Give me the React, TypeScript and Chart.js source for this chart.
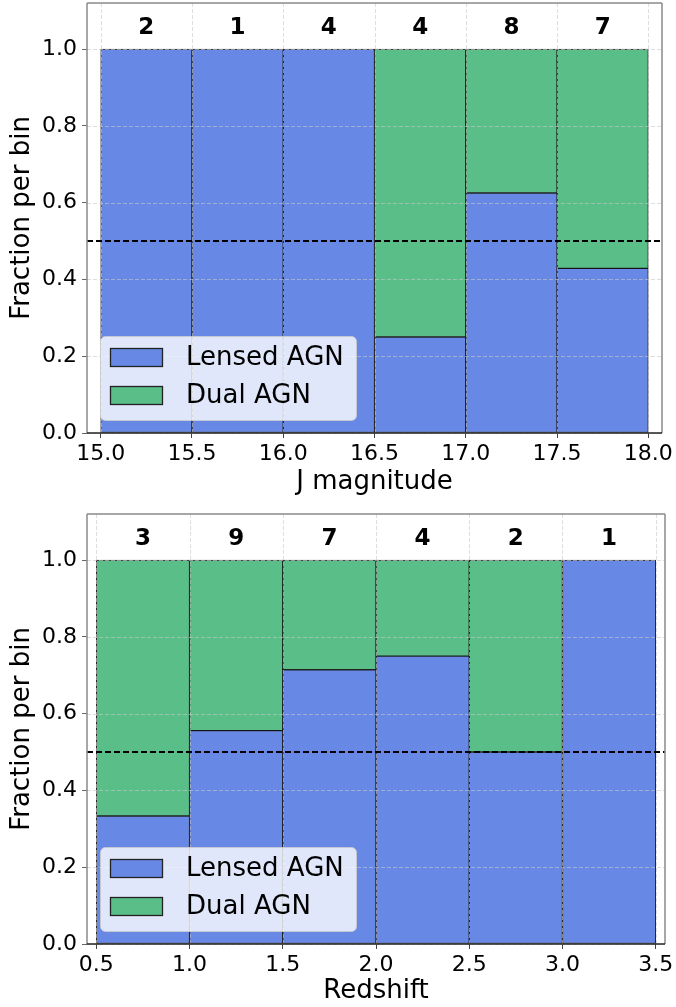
import React, { useEffect, useRef } from "react";
import { Chart, registerables } from "chart.js";

Chart.register(...registerables);

// ---------- data ----------
const J_BIN_CENTERS = [15.25, 15.75, 16.25, 16.75, 17.25, 17.75];
const J_LENSED = [1, 1, 1, 0.25, 0.625, 0.4286];
const J_DUAL = [0, 0, 0, 0.75, 0.375, 0.5714];
const J_COUNTS = [2, 1, 4, 4, 8, 7];
const J_TICKS = [15.0, 15.5, 16.0, 16.5, 17.0, 17.5, 18.0];

const Z_BIN_CENTERS = [0.75, 1.25, 1.75, 2.25, 2.75, 3.25];
const Z_LENSED = [0.3333, 0.5556, 0.7143, 0.75, 0.5, 1];
const Z_DUAL = [0.6667, 0.4444, 0.2857, 0.25, 0.5, 0];
const Z_COUNTS = [3, 9, 7, 4, 2, 1];
const Z_TICKS = [0.5, 1.0, 1.5, 2.0, 2.5, 3.0, 3.5];

const Y_TICKS = [0, 0.2, 0.4, 0.6, 0.8, 1.0];
const SERIES_LABELS = ["Lensed AGN", "Dual AGN"];
const REF_LINE = 0.5;

// ---------- style ----------
const FONT = "'DejaVu Sans', sans-serif";
const BLUE = "rgb(103,136,229)";
const GREEN = "rgb(89,190,135)";
const EDGE = "rgba(0,0,0,0.85)";
const Y_MAX = 1.12;
const COUNT_Y = 1.055;

type PanelProps = {
  centers: number[];
  lensed: number[];
  dual: number[];
  counts: number[];
  xTicks: number[];
  xMin: number;
  xMax: number;
  xTitle: string;
  width: number;
  height: number;
  padTop: number;
  padRight: number;
  xAxisH: number;
};

function Panel(p: PanelProps) {
  const ref = useRef<HTMLCanvasElement>(null);
  useEffect(() => {
    if (!ref.current) return;
    const overlay = {
      id: "overlay",
      afterDatasetsDraw(chart: any) {
        const { ctx, chartArea: a, scales } = chart;
        const x = scales.x;
        const y = scales.y;
        const line = (x1: number, y1: number, x2: number, y2: number) => {
          ctx.beginPath();
          ctx.moveTo(x1, y1);
          ctx.lineTo(x2, y2);
          ctx.stroke();
        };
        ctx.save();
        // grid (drawn above bars)
        ctx.strokeStyle = "rgba(200,200,200,0.6)";
        ctx.lineWidth = 1;
        ctx.setLineDash([4, 2]);
        for (const t of p.xTicks) {
          const px = Math.round(x.getPixelForValue(t)) + 0.5;
          line(px, a.top, px, a.bottom);
        }
        for (const t of Y_TICKS) {
          const py = Math.round(y.getPixelForValue(t)) + 0.5;
          line(a.left, py, a.right, py);
        }
        // reference line
        ctx.strokeStyle = "#000";
        ctx.lineWidth = 2;
        ctx.setLineDash([6, 3]);
        const ry = y.getPixelForValue(REF_LINE);
        line(a.left, ry, a.right, ry);
        ctx.setLineDash([]);
        // counts
        ctx.fillStyle = "#000";
        ctx.font = `bold 23px ${FONT}`;
        ctx.textAlign = "center";
        ctx.textBaseline = "middle";
        p.counts.forEach((c, i) => {
          ctx.fillText(String(c), x.getPixelForValue(p.centers[i]), y.getPixelForValue(COUNT_Y));
        });
        // legend
        const lx = a.left + 13;
        const lw = 256;
        const lh = 84;
        const ly = a.bottom - 13 - lh;
        ctx.beginPath();
        ctx.roundRect(lx + 0.5, ly + 0.5, lw, lh, 5);
        ctx.fillStyle = "rgba(255,255,255,0.8)";
        ctx.fill();
        ctx.strokeStyle = "rgba(204,204,204,0.8)";
        ctx.lineWidth = 1;
        ctx.stroke();
        const colors = [BLUE, GREEN];
        ctx.font = `26px ${FONT}`;
        ctx.textAlign = "left";
        ctx.textBaseline = "middle";
        SERIES_LABELS.forEach((lab, i) => {
          const sy = ly + 12 + i * 38;
          ctx.fillStyle = colors[i];
          ctx.fillRect(lx + 10, sy, 53, 19);
          ctx.strokeStyle = "#222";
          ctx.lineWidth = 1.3;
          ctx.strokeRect(lx + 10.5, sy + 0.5, 52, 18);
          ctx.fillStyle = "#000";
          ctx.fillText(lab, lx + 86, sy + 10);
        });
        // spines
        ctx.strokeStyle = "#8a8a8a";
        ctx.lineWidth = 1.5;
        line(a.left, a.top, a.left, a.bottom);
        line(a.left, a.top, a.right, a.top);
        line(a.right, a.top, a.right, a.bottom);
        ctx.strokeStyle = "#222";
        line(a.left, a.bottom, a.right, a.bottom);
        ctx.restore();
      },
    };

    const mk = (vals: number[]) => p.centers.map((c, i) => ({ x: c, y: vals[i] }));
    const chart = new Chart(ref.current, {
      type: "bar",
      data: {
        datasets: [
          {
            label: SERIES_LABELS[0],
            data: mk(p.lensed),
            backgroundColor: BLUE,
            borderColor: EDGE,
            borderWidth: 1,
            borderSkipped: false,
            barPercentage: 1,
            categoryPercentage: 1,
            stack: "s",
          },
          {
            label: SERIES_LABELS[1],
            data: mk(p.dual),
            backgroundColor: GREEN,
            borderColor: EDGE,
            borderWidth: 1,
            borderSkipped: false,
            barPercentage: 1,
            categoryPercentage: 1,
            stack: "s",
          },
        ],
      } as any,
      options: {
        responsive: false,
        animation: false,
        devicePixelRatio: 1,
        layout: { padding: { left: 0, right: p.padRight, top: p.padTop, bottom: 0 } },
        plugins: { legend: { display: false }, tooltip: { enabled: false } },
        scales: {
          x: {
            type: "linear",
            stacked: true,
            min: p.xMin,
            max: p.xMax,
            offset: false,
            afterBuildTicks: (s: any) => {
              s.ticks = p.xTicks.map((v) => ({ value: v }));
            },
            afterFit: (s: any) => {
              s.height = p.xAxisH;
              s.paddingLeft = 0;
              s.paddingRight = 0;
            },
            ticks: {
              callback: (v: any) => Number(v).toFixed(1),
              font: { family: FONT, size: 22 },
              color: "#000",
              padding: 3,
              maxRotation: 0,
              autoSkip: false,
            },
            grid: {
              offset: false,
              drawOnChartArea: false,
              drawTicks: true,
              tickLength: 5,
              tickColor: "#444",
              tickWidth: 1,
            },
            border: { display: false },
            title: {
              display: true,
              text: p.xTitle,
              font: { family: FONT, size: 26 },
              color: "#000",
              padding: { top: 0, bottom: 0 },
            },
          },
          y: {
            type: "linear",
            stacked: true,
            min: 0,
            max: Y_MAX,
            afterBuildTicks: (s: any) => {
              s.ticks = Y_TICKS.map((v) => ({ value: v }));
            },
            afterFit: (s: any) => {
              s.width = 87;
              s.paddingTop = 0;
              s.paddingBottom = 0;
            },
            ticks: {
              callback: (v: any) => Number(v).toFixed(1),
              font: { family: FONT, size: 22 },
              color: "#000",
              padding: 5,
              autoSkip: false,
            },
            grid: {
              offset: false,
              drawOnChartArea: false,
              drawTicks: true,
              tickLength: 5,
              tickColor: "#666",
              tickWidth: 1,
            },
            border: { display: false },
            title: {
              display: true,
              text: "Fraction per bin",
              font: { family: FONT, size: 26 },
              color: "#000",
              padding: { top: 7, bottom: 4 },
            },
          },
        },
      } as any,
      plugins: [overlay],
    });
    return () => chart.destroy();
  }, []);
  return <canvas ref={ref} width={p.width} height={p.height} style={{ display: "block" }} />;
}

export default function App() {
  return (
    <div style={{ position: "absolute", left: 0, top: 0, width: 676, height: 1007, background: "#fff" }}>
      <Panel
        centers={J_BIN_CENTERS}
        lensed={J_LENSED}
        dual={J_DUAL}
        counts={J_COUNTS}
        xTicks={J_TICKS}
        xMin={14.925}
        xMax={18.075}
        xTitle="J magnitude"
        width={676}
        height={498}
        padTop={3}
        padRight={14}
        xAxisH={65}
      />
      <Panel
        centers={Z_BIN_CENTERS}
        lensed={Z_LENSED}
        dual={Z_DUAL}
        counts={Z_COUNTS}
        xTicks={Z_TICKS}
        xMin={0.45}
        xMax={3.55}
        xTitle="Redshift"
        width={676}
        height={509}
        padTop={16}
        padRight={11}
        xAxisH={63}
      />
    </div>
  );
}
